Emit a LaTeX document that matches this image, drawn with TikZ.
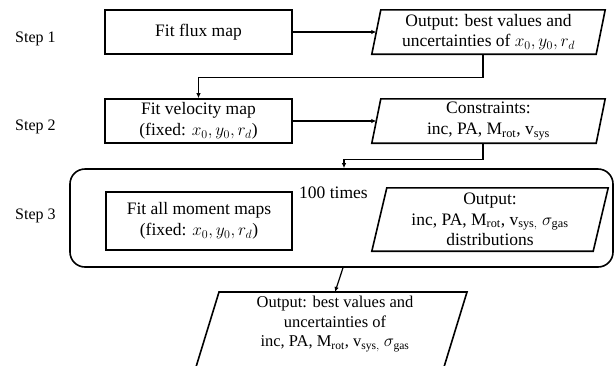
\documentclass[tikz,border=0pt]{standalone}
\usepackage{fontspec}
\setmainfont{Liberation Serif}
\usetikzlibrary{calc,arrows.meta}
\begin{document}
\begin{tikzpicture}[x=1pt,y=-1pt,
  every node/.style={font=\fontsize{17.5}{20.5}\selectfont, inner sep=0pt},
  stepbox/.style={draw, line width=1.6pt, minimum width=187pt, align=center},
  parabox/.style={minimum width=233pt, align=center},
  para/.style={line width=1.6pt, line join=miter},
  arr/.style={-{Latex[length=5pt,width=4.5pt]}, line width=1.2pt},
  lab/.style={anchor=base west, font=\fontsize{16}{19}\selectfont},
  smallfont/.style={font=\fontsize{16.5}{19.5}\selectfont}]
\useasboundingbox (0,0) rectangle (615,365);

% step labels
\node[lab] (s1) at (15,42.5) {Step 1};
\node[lab] (s2) at (15,130) {Step 2};
\node[lab] (s3) at (15,219) {Step 3};

% row 1
\node[stepbox, minimum height=44pt] (b1) at (198.5,32) {Fit flux map};
\node[parabox, minimum height=44pt] (p1) at (488.5,32) {Output: best values and\\uncertainties of $x_0, y_0, r_d$};
\draw[para] ([xshift=9pt]p1.north west) -- (p1.north east) -- ([xshift=-9pt]p1.south east) -- (p1.south west) -- cycle;

% row 2
\node[stepbox, minimum height=44pt] (b2) at (198.5,121) {Fit velocity map\\(fixed: $x_0, y_0, r_d$)};
\node[parabox, minimum height=44pt] (p2) at (488.5,121) {Constraints:\\inc, PA, $\mathrm{M}_{\mathrm{rot}}$, $\mathrm{v}_{\mathrm{sys}}$};
\draw[para] ([xshift=9pt]p2.north west) -- (p2.north east) -- ([xshift=-9pt]p2.south east) -- (p2.south west) -- cycle;

% loop
\node[draw, line width=1.6pt, rounded corners=15pt, minimum width=543pt, minimum height=98pt] (loop) at (341.5,218) {};
\node[stepbox, minimum width=186pt, minimum height=58pt] (b3) at (199,221) {Fit all moment maps\\(fixed: $x_0, y_0, r_d$)};
\node (times) at (333.5,193) {100 times};
\node[minimum width=236pt, minimum height=63pt, align=center] (p3) at (490,219.5) {Output:\\inc, PA, $\mathrm{M}_{\mathrm{rot}}$, $\mathrm{v}_{\mathrm{sys,}}$ $\sigma_{\mathrm{gas}}$\\distributions};
\draw[para] ([xshift=15pt]p3.north west) -- (p3.north east) -- ([xshift=-15pt]p3.south east) -- (p3.south west) -- cycle;

% final
\node[smallfont, anchor=north, inner ysep=4pt, align=center] (p4) at (335,292) {Output: best values and\\uncertainties of\\inc, PA, $\mathrm{M}_{\mathrm{rot}}$, $\mathrm{v}_{\mathrm{sys,}}$ $\sigma_{\mathrm{gas}}$};
\draw[para] ([xshift=-116pt]p4.north) -- ([xshift=132pt]p4.north) -- ++(-27,88) -- ++(-248,0) -- cycle;

% connectors
\draw[arr] (b1.east) -- ([xshift=4.5pt]p1.west);
\draw[arr] ([xshift=-5.5pt]p1.south) -- ++(0,23) -| (b2.north);
\draw[arr] (b2.east) -- ([xshift=4.5pt]p2.west);
\draw[arr] ([xshift=-5.5pt]p2.south) -- ++(0,16) -| ([xshift=2.5pt]loop.north);
\draw[arr] ([xshift=1.5pt]loop.south) -- (p4.north);
\end{tikzpicture}
\end{document}
